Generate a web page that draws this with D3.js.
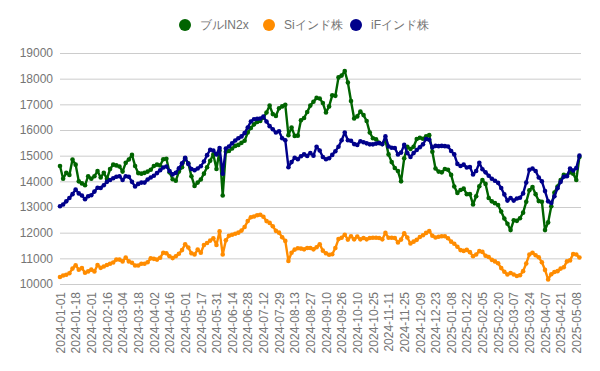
<!DOCTYPE html>
<html>
<head>
<meta charset="utf-8">
<script src="https://cdn.jsdelivr.net/npm/d3@7"></script>
<style>
  body { margin: 0; background: #fff; }
  text { font-family: Arial, "Liberation Sans", sans-serif; }
</style>
</head>
<body>
<div id="chart"></div>
<script>
// x axis labels, one every 10 trading days
var tickLabels = ["2024-01-01","2024-01-18","2024-02-01","2024-02-16","2024-03-04","2024-03-18",
  "2024-04-02","2024-04-16","2024-05-01","2024-05-17","2024-05-31","2024-06-14","2024-06-28",
  "2024-07-12","2024-07-29","2024-08-13","2024-08-27","2024-09-10","2024-09-26","2024-10-10",
  "2024-10-25","2024-11-11","2024-11-25","2024-12-09","2024-12-23","2025-01-08","2025-01-22",
  "2025-02-05","2025-02-20","2025-03-07","2025-03-24","2025-04-07","2025-04-21","2025-05-08"];
var tickEvery = 10;
var totalDays = 334;
var sampleEvery = 2;   // values below are read every 2nd trading day

var seriesNames = ["ブルIN2x", "Siインド株", "iFインド株"];
var seriesColors = ["#006400", "#ff8c00", "#00008b"];
var yTicks = [10000, 11000, 12000, 13000, 14000, 15000, 16000, 17000, 18000, 19000];

var bull = [14600,14100,14330,14250,14850,14650,14000,13920,13850,14200,
  14100,14200,14400,14150,14330,14100,14480,14650,14620,14580,
  14380,14720,14850,15030,14600,14320,14300,14330,14380,14450,
  14600,14650,14620,14860,14880,14350,14080,14020,14380,14550,
  14900,14700,14200,13820,13950,14070,14300,14550,14800,15050,
  14480,15200,13450,15150,15180,15280,15380,15420,15500,15580,
  15900,16080,16220,16310,16350,16480,16680,16950,16620,16550,
  16850,16920,16980,15800,16100,15770,15780,16380,16470,16700,
  16950,17100,17250,17230,17050,16680,16920,17350,17330,18050,
  18120,18300,17850,17130,16450,16530,16720,16580,16350,15900,
  15680,15640,15500,15450,15600,15050,14750,14520,14400,14000,
  14900,15350,15260,15350,15650,15700,15660,15750,15800,15150,
  14500,14380,14350,14480,14450,14250,13800,13550,13660,13720,
  13500,13500,13100,13420,13810,14050,13900,13350,13220,13150,
  13080,12820,12550,12350,12100,12480,12460,12560,12780,13200,
  13650,13780,13500,13230,13200,12100,12400,13030,13560,13800,
  14050,14250,14230,14350,14300,14050,14950];

var si = [10270,10330,10360,10420,10600,10730,10560,10620,10440,10490,
  10560,10490,10740,10630,10680,10740,10790,10840,10950,10950,
  10880,11030,10880,10830,10720,10720,10790,10790,10850,11000,
  10980,10950,11020,11220,11200,11080,11010,11080,11180,11320,
  11550,11420,11200,11150,11340,11220,11520,11600,11690,11780,
  11520,12050,11150,11700,11880,11920,11960,12000,12080,12220,
  12450,12600,12630,12680,12700,12620,12450,12380,12250,12070,
  12000,11820,11680,10900,11220,11340,11390,11380,11350,11400,
  11400,11350,11430,11550,11300,11200,11140,11160,11400,11750,
  11800,11920,11730,11860,11740,11850,11740,11790,11740,11790,
  11800,11800,11790,11740,11990,11800,11800,11790,11620,11730,
  11980,11810,11580,11650,11720,11830,11900,11990,12060,11880,
  11810,11840,11860,11860,11780,11650,11570,11450,11320,11290,
  11330,11240,11080,11150,11280,11250,11100,11050,10940,10880,
  10810,10620,10480,10370,10430,10370,10310,10340,10500,10800,
  11150,11220,11120,11040,10850,10550,10180,10380,10470,10500,
  10600,10650,10880,10920,11170,11150,11030];

var ifind = [13030,13100,13220,13350,13500,13680,13530,13450,13300,13420,
  13460,13600,13750,13740,13850,13980,14050,14120,14180,14200,
  14050,14200,14180,13980,13800,13900,13950,13950,14070,14150,
  14220,14320,14430,14540,14580,14400,14270,14330,14510,14700,
  14920,14680,14480,14430,14500,14590,14770,15020,15230,15200,
  15050,15300,14300,15280,15360,15480,15590,15680,15750,15880,
  16100,16330,16420,16440,16450,16520,16330,16150,16030,15900,
  15950,15680,15600,14550,14750,14920,14860,14980,15050,14990,
  15100,15000,15350,15200,14950,14860,14900,15030,15170,15350,
  15600,15900,15600,15580,15450,15420,15560,15520,15480,15440,
  15440,15470,15490,15450,15750,15360,15310,15300,15050,15120,
  15420,15100,14950,15100,15220,15330,15440,15650,15620,15320,
  15380,15370,15380,15370,15360,15180,15050,14680,14600,14650,
  14540,14560,14270,14400,14720,14470,14350,14220,14100,14020,
  13940,13740,13490,13250,13350,13250,13330,13360,13530,13950,
  14450,14500,14400,14150,14000,13620,13220,13160,13420,13730,
  13980,14180,14200,14500,14420,14520,15000];

var seriesValues = [bull, si, ifind];

var width = 600, height = 371;
var svg = d3.select("#chart").append("svg")
    .attr("width", width)
    .attr("height", height);

var x = d3.scaleLinear().domain([0, totalDays - 1]).range([60, 581]);
var y = d3.scaleLinear().domain([10000, 19000]).range([284, 53]);

// gridlines + y labels
var yAxis = svg.append("g")
    .attr("transform", "translate(60,0)")
    .call(d3.axisLeft(y).tickValues(yTicks).tickSize(-521).tickPadding(7).tickFormat(d3.format("d")));
yAxis.select(".domain").remove();
yAxis.selectAll(".tick line").attr("stroke", "#cccccc");
yAxis.selectAll(".tick text")
    .style("font-size", "12px")
    .attr("fill", "#757575");

// x labels
var xAxis = svg.append("g")
    .attr("transform", "translate(0,284)")
    .call(d3.axisBottom(x)
      .tickValues(tickLabels.map((d, i) => i * tickEvery))
      .tickFormat((d, i) => tickLabels[i])
      .tickSize(0));
xAxis.select(".domain").remove();
xAxis.selectAll(".tick text")
    .style("font-size", "12px")
    .attr("fill", "#757575")
    .attr("text-anchor", "end")
    .attr("transform", "rotate(-90)")
    .attr("x", -8)
    .attr("y", 0)
    .attr("dy", "0.35em");

var line = d3.line()
    .x((d, i) => x(i * sampleEvery))
    .y(d => y(d));

seriesValues.forEach(function(vals, s) {
    var g = svg.append("g");
    g.append("path")
        .datum(vals)
        .attr("fill", "none")
        .attr("stroke", seriesColors[s])
        .attr("stroke-width", 2.4)
        .attr("stroke-linejoin", "round")
        .attr("d", line);
    g.selectAll("circle")
        .data(vals)
        .enter().append("circle")
        .attr("cx", (d, i) => x(i * sampleEvery))
        .attr("cy", d => y(d))
        .attr("r", 2.3)
        .attr("fill", seriesColors[s]);
});

// legend
var legendX = [185, 269, 356];
var legend = svg.append("g");
seriesNames.forEach(function(name, s) {
    legend.append("circle")
        .attr("cx", legendX[s])
        .attr("cy", 25)
        .attr("r", 6)
        .attr("fill", seriesColors[s]);
    legend.append("text")
        .attr("x", legendX[s] + 15)
        .attr("y", 29)
        .style("font-size", "12px")
        .attr("fill", "#757575")
        .text(name);
});
</script>
</body>
</html>
